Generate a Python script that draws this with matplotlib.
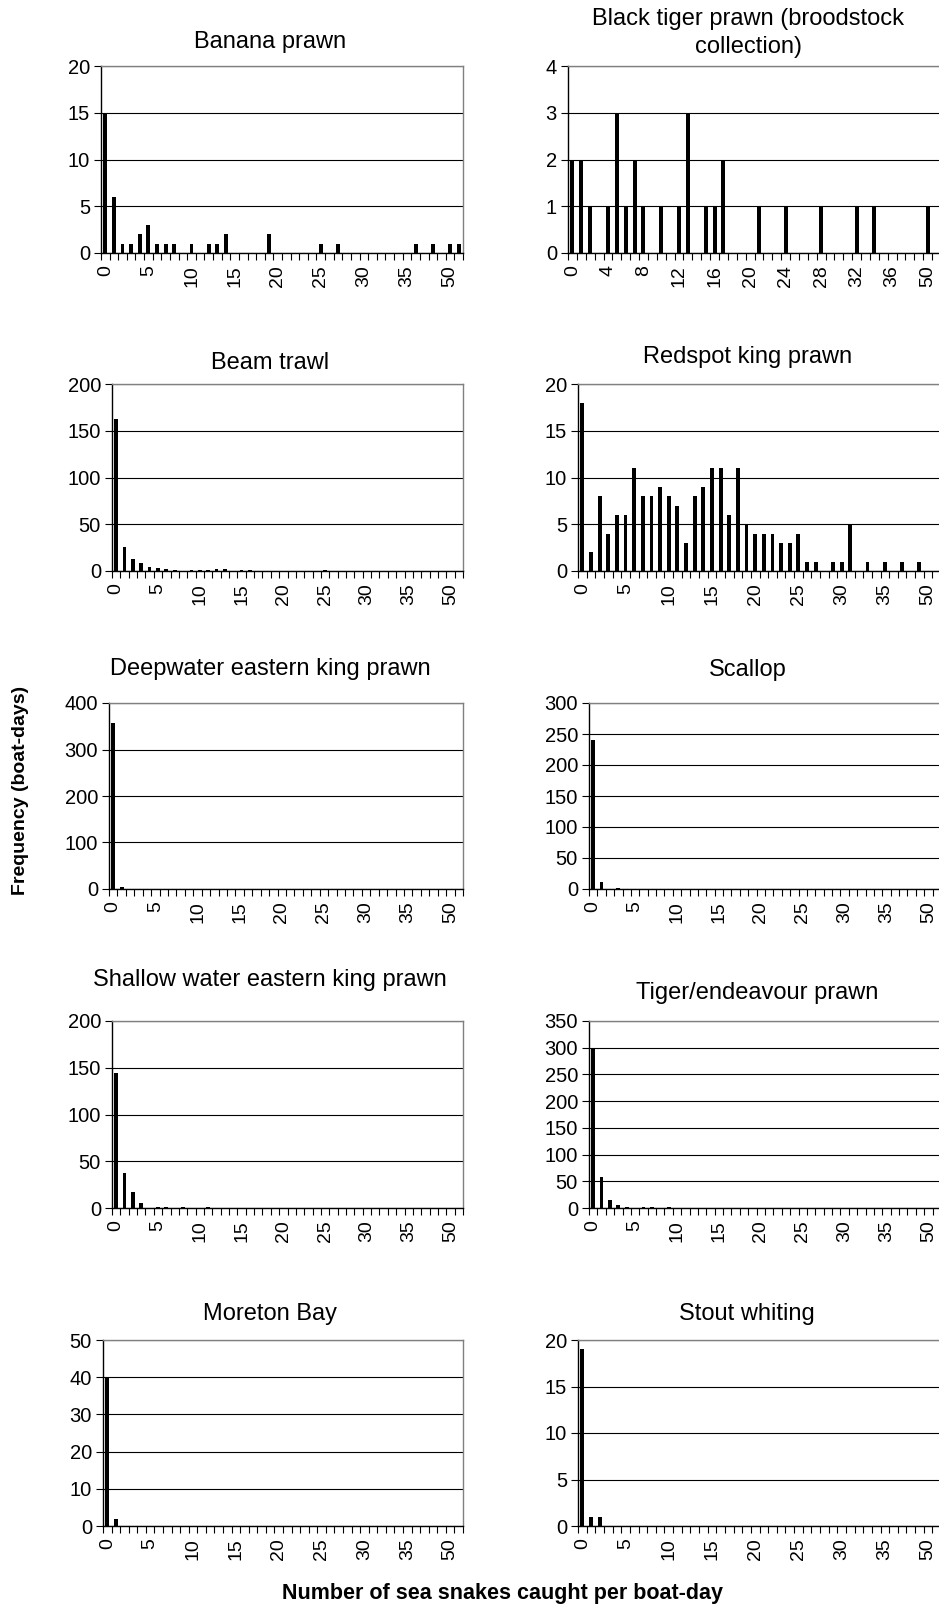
import matplotlib
matplotlib.use("Agg")
import matplotlib.pyplot as plt
import numpy as np

plt.rcParams['font.family'] = ['Liberation Sans', 'DejaVu Sans']

W, H = 939, 1607

# x categories (Excel histogram bins)
categories = [str(i) for i in range(40)] + ["50", "More"]

banana = [15, 6, 1, 1, 2, 3, 1, 1, 1, 0, 1, 0, 1, 1, 2, 0, 0, 0, 0, 2,
          0, 0, 0, 0, 0, 1, 0, 1, 0, 0, 0, 0, 0, 0, 0, 0, 1, 0, 1, 0, 1, 1]
black_tiger = [2, 2, 1, 0, 1, 3, 1, 2, 1, 0, 1, 0, 1, 3, 0, 1, 1, 2, 0, 0,
               0, 1, 0, 0, 1, 0, 0, 0, 1, 0, 0, 0, 1, 0, 1, 0, 0, 0, 0, 0, 1, 0]
beam_trawl = [163, 26, 13, 9, 4, 3, 2, 1, 0, 1, 1, 1, 2, 2, 0, 1, 1, 0, 0, 0,
              0, 0, 0, 0, 0, 1, 0, 0, 0, 0, 0, 0, 0, 0, 0, 0, 0, 0, 0, 0, 0, 0]
redspot = [18, 2, 8, 4, 6, 6, 11, 8, 8, 9, 8, 7, 3, 8, 9, 11, 11, 6, 11, 5,
           4, 4, 4, 3, 3, 4, 1, 1, 0, 1, 1, 5, 0, 1, 0, 1, 0, 1, 0, 1, 0, 0]
deepwater = [358, 5, 0, 0, 0, 0, 0, 0, 0, 0, 0, 0, 0, 0, 0, 0, 0, 0, 0, 0,
             0, 0, 0, 0, 0, 0, 0, 0, 0, 0, 0, 0, 0, 0, 0, 0, 0, 0, 0, 0, 0, 0]
scallop = [240, 12, 0, 1, 0, 0, 0, 0, 0, 0, 0, 0, 0, 0, 0, 0, 0, 0, 0, 0,
           0, 0, 0, 0, 0, 0, 0, 0, 0, 0, 0, 0, 0, 0, 0, 0, 0, 0, 0, 0, 0, 0]
shallow = [144, 37, 17, 5, 0, 1, 1, 0, 1, 0, 0, 1, 0, 0, 0, 0, 0, 0, 0, 0,
           0, 0, 0, 0, 0, 0, 0, 0, 0, 0, 0, 0, 0, 0, 0, 0, 0, 0, 0, 0, 0, 0]
tiger_endeavour = [299, 58, 15, 6, 2, 0, 1, 1, 0, 1, 0, 0, 0, 0, 0, 0, 0, 0, 0, 0,
                   0, 0, 0, 0, 0, 0, 0, 0, 0, 0, 0, 0, 0, 0, 0, 0, 0, 0, 0, 0, 0, 0]
moreton = [40, 2, 0, 0, 0, 0, 0, 0, 0, 0, 0, 0, 0, 0, 0, 0, 0, 0, 0, 0,
           0, 0, 0, 0, 0, 0, 0, 0, 0, 0, 0, 0, 0, 0, 0, 0, 0, 0, 0, 0, 0, 0]
stout = [19, 1, 1, 0, 0, 0, 0, 0, 0, 0, 0, 0, 0, 0, 0, 0, 0, 0, 0, 0,
         0, 0, 0, 0, 0, 0, 0, 0, 0, 0, 0, 0, 0, 0, 0, 0, 0, 0, 0, 0, 0, 0]

titles = ["Banana prawn", "Black tiger prawn (broodstock\ncollection)",
          "Beam trawl", "Redspot king prawn",
          "Deepwater eastern king prawn", "Scallop",
          "Shallow water eastern king prawn", "Tiger/endeavour prawn",
          "Moreton Bay", "Stout whiting"]
series = [banana, black_tiger, beam_trawl, redspot, deepwater, scallop,
          shallow, tiger_endeavour, moreton, stout]
y_max = [20, 4, 200, 20, 400, 300, 200, 350, 50, 20]
y_step = [5, 1, 50, 5, 100, 50, 50, 50, 10, 5]
label_step = [5, 4, 5, 5, 5, 5, 5, 5, 5, 5]

# layout (pixels): left, top, right, bottom ; title centre
rects = [(101, 66, 463, 253), (568, 66, 941, 253),
         (112, 384, 463, 571), (578, 384, 941, 571),
         (109, 703, 463, 889), (589, 703, 941, 889),
         (112, 1021, 463, 1208), (589, 1021, 941, 1208),
         (103, 1340, 463, 1526), (578, 1340, 941, 1526)]
title_pos = [(270, 42), (748, 33), (270, 363), (748, 357),
             (270, 669), (748, 670), (270, 980), (757, 993),
             (270, 1314), (747, 1314)]

fig = plt.figure(figsize=(W / 100, H / 100), dpi=100)

x = np.arange(len(categories))
for i in range(10):
    l, t, r, b = rects[i]
    ax = fig.add_axes([l / W, 1 - b / H, (r - l) / W, (b - t) / H])
    ax.bar(x, series[i], width=0.45, color='black', zorder=3)
    ax.set_xlim(-0.5, len(categories) - 0.5)
    ax.set_ylim(0, y_max[i])
    ax.set_yticks(np.arange(0, y_max[i] + y_step[i] / 2, y_step[i]))
    ax.set_axisbelow(True)
    ax.yaxis.grid(True, color='black', lw=0.8)
    lab_idx = x[::label_step[i]]
    ax.set_xticks(lab_idx)
    ax.set_xticklabels([categories[k] for k in lab_idx], rotation=90)
    ax.set_xticks(np.arange(-0.5, len(categories), 1), minor=True)
    ax.tick_params(axis='x', which='major', length=0, pad=9, labelsize=14)
    ax.tick_params(axis='x', which='minor', length=5, width=0.8, color='black')
    ax.tick_params(axis='y', which='major', length=5, width=0.8, labelsize=14.5, pad=3)
    for s in ['left', 'bottom']:
        ax.spines[s].set_color('black')
        ax.spines[s].set_linewidth(1.0)
    for s in ['top', 'right']:
        ax.spines[s].set_color('#808080')
        ax.spines[s].set_linewidth(1.0)
    tx, ty = title_pos[i]
    fig.text(tx / W, 1 - ty / H, titles[i], ha='center', va='center',
             fontsize=17, linespacing=1.3)

fig.text(502 / W, 1 - 1593 / H, "Number of sea snakes caught per boat-day",
         ha='center', va='center', fontsize=15.5, fontweight='bold')
fig.text(21 / W, 1 - 790 / H, "Frequency (boat-days)", ha='center', va='center',
         rotation=90, fontsize=14, fontweight='bold')

fig.savefig("out.png", dpi=100)
